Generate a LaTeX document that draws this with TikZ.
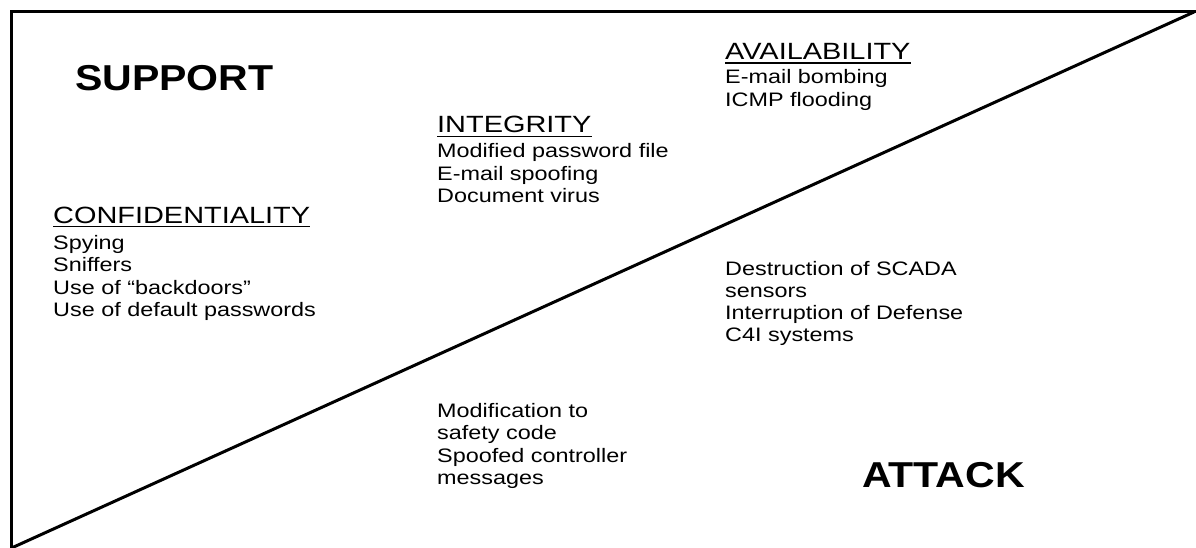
\documentclass[tikz,border=0pt]{standalone}
\usepackage{fontspec}
\usepackage{graphicx}
\setmainfont{Liberation Sans}
\newcommand{\bodyx}[1]{\scalebox{1.2}[1]{#1}}
\newcommand{\headx}[1]{\scalebox{1.23}[1]{#1}}
\newcommand{\bigx}[1]{\scalebox{1.14}[1]{#1}}
\tikzset{
  frame/.style={line width=3pt, line join=miter},
  bodyline/.style={anchor=base west, inner sep=0pt, font=\fontsize{19.5}{22}\selectfont},
  headline/.style={anchor=base west, inner sep=0pt, font=\fontsize{23.5}{26}\selectfont},
  bigline/.style={anchor=base west, inner sep=0pt, font=\fontsize{36}{40}\bfseries\selectfont},
  uline/.style={line width=1.6pt}
}
\begin{document}
\begin{tikzpicture}[x=1pt,y=-1pt]
\useasboundingbox (0,0) rectangle (1196,548);
\coordinate (tl) at (11.5,12);
\coordinate (tr) at (1198,12);
\coordinate (tre) at (1194,12);
\coordinate (bl) at (11.5,548);
\draw[frame] (tr) -- (tl) -- (bl);
\draw[frame] (bl) -- (tre);

\node[bigline] (support) at (75,91) {\bigx{SUPPORT}};
\node[bigline, anchor=base east] (attack) at (1025,487) {\bigx{ATTACK}};

% Confidentiality
\node[headline] (conf) at (53,223) {\headx{CONFIDENTIALITY}};
\draw[uline] ([yshift=-3.5pt]conf.base west) -- ([yshift=-3.5pt]conf.base east);
\node[bodyline] (c1) at (53,249) {\bodyx{Spying}};
\node[bodyline] (c2) at (53,271.5) {\bodyx{Sniffers}};
\node[bodyline] (c3) at (53,294) {\bodyx{Use of “backdoors”}};
\node[bodyline] (c4) at (53,316.5) {\bodyx{Use of default passwords}};

% Integrity
\node[headline] (integ) at (437,133) {\headx{INTEGRITY}};
\draw[uline] ([yshift=-3.5pt]integ.base west) -- ([yshift=-3.5pt]integ.base east);
\node[bodyline] (i1) at (437,158) {\bodyx{Modified password file}};
\node[bodyline] (i2) at (437,180.5) {\bodyx{E-mail spoofing}};
\node[bodyline] (i3) at (437,203) {\bodyx{Document virus}};

% Availability
\node[headline] (avail) at (725,59.5) {\headx{AVAILABILITY}};
\draw[uline] ([yshift=-3.5pt]avail.base west) -- ([yshift=-3.5pt]avail.base east);
\node[bodyline] (a1) at (725,84) {\bodyx{E-mail bombing}};
\node[bodyline] (a2) at (725,106.5) {\bodyx{ICMP flooding}};

% Attack side, right
\node[bodyline] (d1) at (725,275) {\bodyx{Destruction of SCADA}};
\node[bodyline] (d2) at (725,297.5) {\bodyx{sensors}};
\node[bodyline] (d3) at (725,319.5) {\bodyx{Interruption of Defense}};
\node[bodyline] (d4) at (725,341.5) {\bodyx{C4I systems}};

% Attack side, lower
\node[bodyline] (m1) at (437,417) {\bodyx{Modification to}};
\node[bodyline] (m2) at (437,439.5) {\bodyx{safety code}};
\node[bodyline] (m3) at (437,462) {\bodyx{Spoofed controller}};
\node[bodyline] (m4) at (437,484.5) {\bodyx{messages}};
\end{tikzpicture}
\end{document}
